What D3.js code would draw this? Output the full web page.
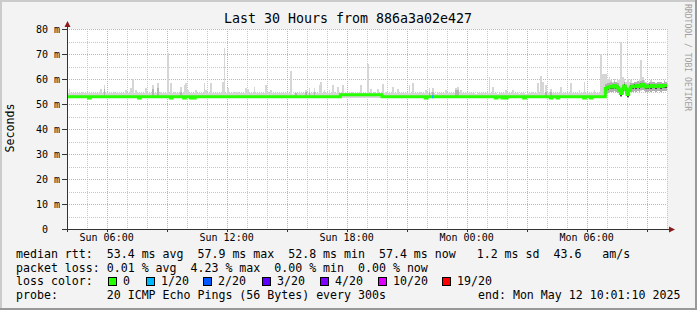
<!DOCTYPE html>
<html>
<head>
<meta charset="utf-8">
<script src="https://cdn.jsdelivr.net/npm/d3@7"></script>
<style>
  body { margin: 0; background: #f3f3f3; }
  svg { display: block; font-family: "DejaVu Sans Mono", monospace; }
</style>
</head>
<body>
<div id="chart"></div>
<script>
// --- data ---
const title = "Last 30 Hours from 886a3a02e427";
const startTime = Date.UTC(2025, 4, 11, 4, 1, 10);   // Sun 04:01:10
const endTime = Date.UTC(2025, 4, 12, 10, 1, 10);    // Mon 10:01:10
const stepMs = 300 * 1000;
const nSteps = 360;

const yTicks = [0, 10, 20, 30, 40, 50, 60, 70, 80];

// median rtt (ms) level changes before the jump: [fromStep, value]
const medianLevels = [[0, 52.9], [164, 53.7], [189, 52.9]];
const dipSteps = [13, 43, 62, 70, 74, 76, 215, 257, 261, 263, 274, 290, 294, 310, 314];
const dipValue = 52.4;
const baseMin = 52.4;
const baseMax = 54.3;

// highest ping per step where the smoke sticks out: [step, ms]
const spikes = [
  [1,56],[9,55],[14,54.5],[20,56],[22,57.6],[28,55],[31,54.8],[35,55.5],[38,56.5],[39,60],
  [41,55.5],[43,54.6],[47,56.5],[51,57.6],[54,58.3],[56,55],[60,70.5],[62,58.5],[64,55],[68,57],
  [70,57.6],[71,58.5],[72,55.5],[74,54.6],[77,55.5],[79,54.5],[82,58.5],[83,55.5],[86,58.6],[87,54.6],
  [90,54.6],[93,59],[94,72.3],[96,56.4],[100,55],[101,55],[102,55],[107,56.5],[108,56],[112,57],
  [113,54.6],[117,54.5],[119,57.6],[120,54.8],[122,55.7],[125,54.5],[134,63.2],[135,54.2],[137,54.5],[143,55.5],
  [145,56.5],[148,56.4],[151,57.6],[152,59],[154,55.5],[157,55.5],[159,57.6],[160,54.8],[162,57],[165,57.5],
  [168,54.5],[171,54.8],[176,57.6],[180,66],[182,56],[184,54.8],[186,56],[189,58],[191,54.8],[195,56.8],
  [198,56],[202,54.3],[205,57.6],[207,58.5],[212,54.8],[215,55.8],[217,56.4],[219,56.4],[221,54.2],[227,55.5],
  [230,54.5],[233,56.4],[234,57],[236,55.5],[245,54.2],[251,54.5],[253,61],[255,56.8],[258,54.2],[263,55.5],
  [267,55.8],[271,54.2],[275,54.2],[279,55],[282,58.3],[284,61.3],[285,59],[287,57.5],[290,56],[296,57],
  [299,54.6],[302,58.5],[305,54.6],[307,55.5],[310,59],[312,54.6],[316,55.8],[320,70],[321,62],[322,62]
];
// denser (darker) smoke patches: [step, ms]
const midSpots = [[22,56],[51,56],[54,56.5],[68,55],[137,54.3],[143,55],[145,55],[148,55],
  [217,55],[219,55],[233,55.5],[234,55.5],[287,55],[290,55]];

// loss other than 0 on the median line: [step, lossIndex]
const lossSteps = [[219, 1]];

// after the jump at step 323
const tailStart = 323;
const tailMedian = [56.2,56.6,56.8,57.0,56.8,57.4,57.0,56.5,55.5,54.2,56.0,57.2,56.0,53.8,55.5,56.8,57.0,57.2,57.0,
  57.4,57.0,57.6,57.8,57.2,56.8,57.0,57.2,57.0,57.4,57.2,57.0,57.2,57.4,57.0,57.2,57.4,57.4];
const tailMax = [62,60,61,59.5,59,60,58.8,59.5,60,75,61,60,59,60.2,59,59.5,58.5,59,58.8,
  59.2,60,67.6,61,59.5,59,58.5,59,59.5,58.8,59,58.5,59,58.8,59,58.5,59.5,58.8];
const tailMin = [54,54.5,54.8,55,55,55.2,55,54.5,53.5,52.8,54,55,54,52.5,53.5,54.8,55,55.2,55,
  55.2,55,55.4,55.5,55.2,54.8,55,55.2,55,55.4,55.2,55,55.2,55.4,55,55.2,55.4,55.4];

const lossLabels = ["0", "1/20", "2/20", "3/20", "4/20", "10/20", "19/20"];
const lossColors = ["#26ff00", "#00b8ff", "#0059ff", "#5e00ff", "#7e00ff", "#dd00ff", "#ff0000"];

const legendRows = [
  "median rtt:  53.4 ms avg  57.9 ms max  52.8 ms min  57.4 ms now   1.2 ms sd  43.6   am/s",
  "packet loss: 0.01 % avg  4.23 % max  0.00 % min  0.00 % now",
  "loss color:",
  "probe:       20 ICMP Echo Pings (56 Bytes) every 300s"
];
const endLabel = "end: Mon May 12 10:01:10 2025";

// --- build per-step series ---
const stepTime = i => new Date(startTime + i * stepMs);
const spikeMap = new Map(spikes);
const midMap = new Map(midSpots);
const steps = d3.range(nSteps).map(i => {
  let med, lo, hi;
  if (i >= tailStart) {
    med = tailMedian[i - tailStart];
    lo = tailMin[i - tailStart];
    hi = tailMax[i - tailStart];
  } else {
    med = medianLevels.filter(l => l[0] <= i).pop()[1];
    if (dipSteps.includes(i)) med = dipValue;
    lo = baseMin;
    hi = spikeMap.has(i) ? spikeMap.get(i) : baseMax;
  }
  return {i, t: stepTime(i), t1: stepTime(i + 1), med, lo, hi, mid: midMap.get(i)};
});

// --- layout ---
const W = 697, H = 310;
const plot = {left: 67, right: 667, top: 29, bottom: 229};

const svg = d3.select("#chart").append("svg")
  .attr("width", W).attr("height", H);

svg.append("rect").attr("width", W).attr("height", H).attr("fill", "#f3f3f3");
// bevel
svg.append("rect").attr("x", 0).attr("y", 0).attr("width", W).attr("height", 2).attr("fill", "#cbcbcb");
svg.append("rect").attr("x", 0).attr("y", 0).attr("width", 2).attr("height", H).attr("fill", "#cbcbcb");
svg.append("rect").attr("x", 0).attr("y", H - 2).attr("width", W).attr("height", 2).attr("fill", "#999");
svg.append("rect").attr("x", W - 2).attr("y", 0).attr("width", 2).attr("height", H).attr("fill", "#999");

svg.append("rect")
  .attr("x", plot.left).attr("y", plot.top)
  .attr("width", plot.right - plot.left).attr("height", plot.bottom - plot.top)
  .attr("fill", "#fff");

const x = d3.scaleUtc().domain([startTime, endTime]).range([plot.left, plot.right]);
const y = d3.scaleLinear().domain([0, 80]).range([plot.bottom, plot.top]);

// grid
const grid = svg.append("g").attr("shape-rendering", "crispEdges").attr("stroke-width", 1);
const minorY = d3.range(5, 80, 10);
grid.selectAll(".gy").data(minorY).enter().append("line")
  .attr("x1", plot.left).attr("x2", plot.right)
  .attr("y1", d => Math.round(y(d)) + 0.5).attr("y2", d => Math.round(y(d)) + 0.5)
  .attr("stroke", "#c7c7c7").attr("stroke-dasharray", "1,1");
grid.selectAll(".gx").data(x.ticks(d3.utcHour.every(1)).filter(d => d.getUTCHours() % 3 !== 0)).enter().append("line")
  .attr("y1", plot.top).attr("y2", plot.bottom)
  .attr("x1", d => Math.round(x(d)) + 0.5).attr("x2", d => Math.round(x(d)) + 0.5)
  .attr("stroke", "#c7c7c7").attr("stroke-dasharray", "1,1");
grid.selectAll(".my").data(yTicks.filter(d => d > 0)).enter().append("line")
  .attr("x1", plot.left).attr("x2", plot.right)
  .attr("y1", d => Math.round(y(d)) + 0.5).attr("y2", d => Math.round(y(d)) + 0.5)
  .attr("stroke", "#f39f9f").attr("stroke-dasharray", "1,1");
const majorX = x.ticks(d3.utcHour.every(3));
grid.selectAll(".mx").data(majorX).enter().append("line")
  .attr("y1", plot.top).attr("y2", plot.bottom)
  .attr("x1", d => Math.round(x(d)) + 0.5).attr("x2", d => Math.round(x(d)) + 0.5)
  .attr("stroke", "#f39f9f").attr("stroke-dasharray", "1,1");

// smoke
const smoke = svg.append("g").attr("shape-rendering", "crispEdges");
smoke.selectAll(".s").data(steps).enter().append("rect")
  .attr("x", d => x(d.t)).attr("width", d => x(d.t1) - x(d.t))
  .attr("y", d => y(d.hi)).attr("height", d => y(d.lo) - y(d.hi))
  .attr("fill", "#d6d6d6");
smoke.selectAll(".m").data(steps.filter(d => d.mid)).enter().append("rect")
  .attr("x", d => x(d.t)).attr("width", d => x(d.t1) - x(d.t))
  .attr("y", d => y(d.mid)).attr("height", d => y(d.lo) - y(d.mid))
  .attr("fill", "#b4b4b4");
const tail = steps.filter(d => d.i >= tailStart);
smoke.selectAll(".tm").data(tail).enter().append("rect")
  .attr("x", d => x(d.t)).attr("width", d => x(d.t1) - x(d.t))
  .attr("y", d => y(Math.min(d.hi, d.med + 1.8))).attr("height", d => y(Math.max(d.lo, d.med - 2)) - y(Math.min(d.hi, d.med + 1.8)))
  .attr("fill", "#b0b0b0");
smoke.selectAll(".td").data(tail).enter().append("rect")
  .attr("x", d => x(d.t)).attr("width", d => x(d.t1) - x(d.t))
  .attr("y", d => y(d.med + 0.8)).attr("height", d => y(d.med - 0.9) - y(d.med + 0.8))
  .attr("fill", "#444");

// median line
const linePts = steps.map(d => ({t: d.t, v: d.med}));
linePts.push({t: new Date(endTime), v: steps[nSteps - 1].med});
const line = d3.line().x(d => x(d.t)).y(d => y(d.v)).curve(d3.curveStepAfter);
svg.append("path").datum(linePts)
  .attr("d", line).attr("fill", "none")
  .attr("stroke", lossColors[0]).attr("stroke-width", 3);
lossSteps.forEach(([s, li]) => {
  const d = steps[s];
  svg.append("path").datum([{t: d.t, v: d.med}, {t: d.t1, v: d.med}])
    .attr("d", line).attr("fill", "none")
    .attr("stroke", lossColors[li]).attr("stroke-width", 3);
});

// axes
const axisCol = "#333";
svg.append("line").attr("x1", plot.left - 5).attr("x2", plot.right + 3)
  .attr("y1", plot.bottom + 0.5).attr("y2", plot.bottom + 0.5).attr("stroke", axisCol);
svg.append("line").attr("x1", plot.left + 0.5).attr("x2", plot.left + 0.5)
  .attr("y1", plot.bottom + 3).attr("y2", plot.top - 3).attr("stroke", axisCol);
svg.append("path").attr("d", `M${plot.left + 0.5},${plot.top - 8} l-3,6 h6 z`).attr("fill", "#8b1a1a");
svg.append("path").attr("d", `M${plot.right + 8},${plot.bottom + 0.5} l-6,-3 v6 z`).attr("fill", "#8b1a1a");

const ticks = svg.append("g").attr("shape-rendering", "crispEdges");
ticks.selectAll(".yt").data(yTicks).enter().append("line")
  .attr("x1", plot.left - 5).attr("x2", plot.left)
  .attr("y1", d => Math.round(y(d)) + 0.5).attr("y2", d => Math.round(y(d)) + 0.5)
  .attr("stroke", axisCol);
ticks.selectAll(".xt").data(majorX).enter().append("line")
  .attr("x1", d => Math.round(x(d)) + 0.5).attr("x2", d => Math.round(x(d)) + 0.5)
  .attr("y1", plot.bottom).attr("y2", plot.bottom + 3)
  .attr("stroke", axisCol);

svg.selectAll(".yl").data(yTicks).enter().append("text")
  .attr("x", d => d === 0 ? 48 : 60).attr("y", d => y(d) + 3.5)
  .attr("text-anchor", "end").attr("font-size", 10).attr("fill", "#000")
  .text(d => d === 0 ? "0" : d + " m");

const fmt = d3.utcFormat("%a %H:%M");
svg.selectAll(".xl").data(x.ticks(d3.utcHour.every(6))).enter().append("text")
  .attr("x", d => x(d)).attr("y", plot.bottom + 11.5)
  .attr("text-anchor", "middle").attr("font-size", 10).attr("fill", "#000")
  .text(d => fmt(d));

// titles
svg.append("text").attr("x", 348).attr("y", 23).attr("text-anchor", "middle")
  .attr("font-size", 13.3).attr("fill", "#000").text(title);
svg.append("text").attr("transform", "translate(14,128) rotate(-90)")
  .attr("text-anchor", "middle").attr("font-size", 11.6).attr("fill", "#000").text("Seconds");
svg.append("text").attr("transform", "translate(685,4) rotate(90)")
  .attr("font-size", 8.1).attr("fill", "#a0a0a0").text("RRDTOOL / TOBI OETIKER");

// legend
const rowY = [258, 271.5, 285, 298.5];
svg.selectAll(".lg").data(legendRows).enter().append("text")
  .attr("x", 16).attr("y", (d, i) => rowY[i])
  .attr("font-size", 11.6).attr("fill", "#000")
  .attr("xml:space", "preserve").style("white-space", "pre")
  .text(d => d);
svg.append("text").attr("x", 478).attr("y", rowY[3])
  .attr("font-size", 11.6).attr("fill", "#000").text(endLabel);

const swatchX = [108, 146, 203, 262, 320, 378, 442];
const sw = svg.append("g");
sw.selectAll("rect").data(lossColors).enter().append("rect")
  .attr("x", (d, i) => swatchX[i] + 0.5).attr("y", 277.5)
  .attr("width", 8).attr("height", 8)
  .attr("fill", d => d).attr("stroke", "#000").attr("stroke-width", 1);
sw.selectAll("text").data(lossLabels).enter().append("text")
  .attr("x", (d, i) => swatchX[i] + 15).attr("y", rowY[2])
  .attr("font-size", 11.6).attr("fill", "#000").text(d => d);
</script>
</body>
</html>
